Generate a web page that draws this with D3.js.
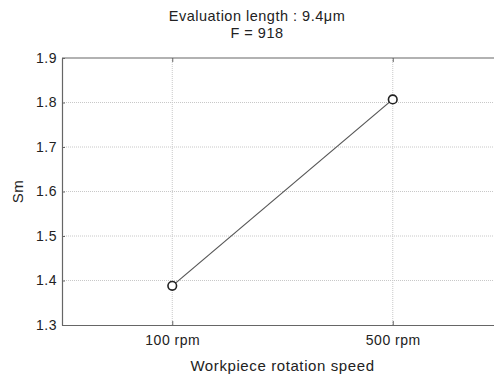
<!DOCTYPE html>
<html><head><meta charset="utf-8">
<script src="https://cdn.jsdelivr.net/npm/d3@7"></script>
<style>body{margin:0;background:#fff;overflow:hidden}svg{display:block}text{font-family:"Liberation Sans",Arial,sans-serif;fill:#222}</style>
</head><body>
<script>
const categories = ["100 rpm", "500 rpm"];
const smValues = [1.388, 1.807];
const yTicks = [1.3, 1.4, 1.5, 1.6, 1.7, 1.8, 1.9];
const titleLines = ["Evaluation length : 9.4\u03bcm", "F = 918"];
const xLabel = "Workpiece rotation speed";
const yLabel = "Sm";

const W = 494, H = 379;
const m = {left: 62, right: 503, top: 58, bottom: 325};
const svg = d3.select("body").append("svg").attr("width", W).attr("height", H);

const x = d3.scalePoint().domain(categories).range([m.left, m.right]).padding(0.5);
const y = d3.scaleLinear().domain([1.3, 1.9]).range([m.bottom, m.top]);

// grid
svg.append("g").selectAll("line").data(yTicks.slice(1, -1)).join("line")
  .attr("x1", m.left).attr("x2", m.right).attr("y1", d => y(d)).attr("y2", d => y(d))
  .attr("stroke", "#c8c8c8").attr("stroke-width", 1).attr("stroke-dasharray", "1,1");
svg.append("g").selectAll("line").data(categories).join("line")
  .attr("x1", d => x(d)).attr("x2", d => x(d)).attr("y1", m.top).attr("y2", m.bottom)
  .attr("stroke", "#c8c8c8").attr("stroke-width", 1).attr("stroke-dasharray", "1,1");

// axes
const yAxis = svg.append("g").attr("transform", `translate(${m.left},0)`)
  .call(d3.axisLeft(y).tickValues(yTicks).tickFormat(d3.format(".1f")).tickSizeInner(-3).tickSizeOuter(0).tickPadding(5));
const xAxis = svg.append("g").attr("transform", `translate(0,${m.bottom})`)
  .call(d3.axisBottom(x).tickSizeInner(-4).tickSizeOuter(0).tickPadding(10));
const xTop = svg.append("g").attr("transform", `translate(0,${m.top})`)
  .call(d3.axisTop(x).tickSizeInner(-4).tickSizeOuter(0).tickFormat(""));
[yAxis, xAxis, xTop].forEach(g => {
  g.selectAll(".domain").attr("stroke", "#666").attr("stroke-width", 1.2);
  g.selectAll(".tick line").attr("stroke", "#666");
  g.selectAll(".tick text").attr("font-size", 14).attr("fill", "#222")
   .attr("letter-spacing", 0.5)
   .style("font-family", '"Liberation Sans",Arial,sans-serif');
});
xTop.select(".domain").attr("d", `M${m.left},0H${m.right}`);

// line
svg.append("path").datum(smValues)
  .attr("d", d3.line().x((d, i) => x(categories[i])).y(d => y(d)))
  .attr("fill", "none").attr("stroke", "#555").attr("stroke-width", 1.2);
svg.append("g").selectAll("circle").data(smValues).join("circle")
  .attr("cx", (d, i) => x(categories[i])).attr("cy", d => y(d)).attr("r", 4.3)
  .attr("fill", "#fff").attr("stroke", "#222").attr("stroke-width", 1.6);

// titles
svg.append("text").attr("x", 257).attr("y", 21).attr("text-anchor", "middle").attr("font-size", 14.5).attr("letter-spacing", 0.5).text(titleLines[0]);
svg.append("text").attr("x", 257).attr("y", 38).attr("text-anchor", "middle").attr("font-size", 14.5).attr("letter-spacing", 0.5).text(titleLines[1]);
svg.append("text").attr("x", (m.left + m.right) / 2).attr("y", 371).attr("text-anchor", "middle").attr("font-size", 15).attr("letter-spacing", 0.6).text(xLabel);
svg.append("text").attr("transform", `translate(23,${(m.top + m.bottom) / 2}) rotate(-90)`).attr("text-anchor", "middle").attr("font-size", 15).attr("letter-spacing", 0.6).text(yLabel);
</script>
</body></html>
